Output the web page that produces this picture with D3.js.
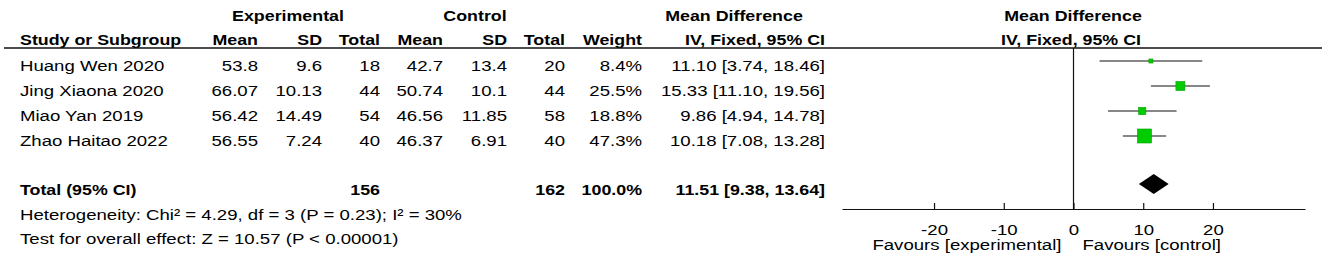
<!DOCTYPE html>
<html>
<head>
<meta charset="utf-8">
<script src="https://cdn.jsdelivr.net/npm/d3@7"></script>
<style>
  body { margin: 0; background: #fff; }
  text { font-family: "Liberation Sans", Arial, sans-serif; fill: #000; }
</style>
</head>
<body>
<div id="chart"></div>
<script>
// study data
const studies = ["Huang Wen 2020", "Jing Xiaona 2020", "Miao Yan 2019", "Zhao Haitao 2022"];
const expMean = [53.8, 66.07, 56.42, 56.55];
const expSD = [9.6, 10.13, 14.49, 7.24];
const expTotal = [18, 44, 54, 40];
const ctlMean = [42.7, 50.74, 46.56, 46.37];
const ctlSD = [13.4, 10.1, 11.85, 6.91];
const ctlTotal = [20, 44, 58, 40];
const weights = [8.4, 25.5, 18.8, 47.3];
const meanDiff = [11.10, 15.33, 9.86, 10.18];
const ciLow = [3.74, 11.10, 4.94, 7.08];
const ciHigh = [18.46, 19.56, 14.78, 13.28];

// pooled result
const pooledMD = [11.51, 9.38, 13.64];   // estimate, lower, upper
const totalN = [156, 162];
const totalWeight = 100.0;
const heterogeneity = "Heterogeneity: Chi\u00b2 = 4.29, df = 3 (P = 0.23); I\u00b2 = 30%";
const overallTest = "Test for overall effect: Z = 10.57 (P < 0.00001)";

const xTicks = [-20, -10, 0, 10, 20];

const width = 1325, height = 268;
const fontSize = 15.5;
const stretch = 1.2;      // the source image is widened horizontally
const boldStretch = 1.15;

const svg = d3.select("#chart").append("svg")
    .attr("width", width)
    .attr("height", height);

const f2 = d3.format(".2f");
const f1 = d3.format(".1f");

// put a text at (x, y) stretched horizontally like the original
function label(x, y, str, anchor, bold) {
    return svg.append("text")
        .attr("transform", `translate(${x},${y}) scale(${bold ? boldStretch : stretch},1)`)
        .attr("text-anchor", anchor || "start")
        .attr("font-size", fontSize)
        .attr("font-weight", bold ? "bold" : "normal")
        .text(str);
}

// column right edges
const col = {
    study: 20, eMean: 258, eSD: 322, eTot: 380,
    cMean: 443, cSD: 507, cTot: 565, weight: 642, ci: 825
};

// headers
label(288, 21, "Experimental", "middle", true);
label(475, 21, "Control", "middle", true);
label(734, 21, "Mean Difference", "middle", true);
label(1073, 21, "Mean Difference", "middle", true);

label(col.study, 44.5, "Study or Subgroup", "start", true);
label(col.eMean, 44.5, "Mean", "end", true);
label(col.eSD, 44.5, "SD", "end", true);
label(col.eTot, 44.5, "Total", "end", true);
label(col.cMean, 44.5, "Mean", "end", true);
label(col.cSD, 44.5, "SD", "end", true);
label(col.cTot, 44.5, "Total", "end", true);
label(col.weight, 44.5, "Weight", "end", true);
label(col.ci, 44.5, "IV, Fixed, 95% CI", "end", true);
label(1071, 44.5, "IV, Fixed, 95% CI", "middle", true);

svg.append("line")
    .attr("x1", 4).attr("x2", 1322)
    .attr("y1", 48).attr("y2", 48)
    .attr("stroke", "#111").attr("stroke-width", 1.3);

// scales
const x = d3.scaleLinear().domain([-33.2, 33.2]).range([842, 1305]);
const y = d3.scalePoint().domain(studies).range([61, 136]);
const boxSize = d3.scalePow().exponent(0.72).domain([0, 47.3]).range([0, 14]);
const totalY = 184;
const axisY = 209;

// study rows
studies.forEach((s, i) => {
    const by = y(s) + 9.5;
    label(col.study, by, s, "start");
    label(col.eMean, by, String(expMean[i]), "end");
    label(col.eSD, by, String(expSD[i]), "end");
    label(col.eTot, by, String(expTotal[i]), "end");
    label(col.cMean, by, String(ctlMean[i]), "end");
    label(col.cSD, by, String(ctlSD[i]), "end");
    label(col.cTot, by, String(ctlTotal[i]), "end");
    label(col.weight, by, f1(weights[i]) + "%", "end");
    label(col.ci, by, `${f2(meanDiff[i])} [${f2(ciLow[i])}, ${f2(ciHigh[i])}]`, "end");
});

// total row
label(col.study, totalY + 11, "Total (95% CI)", "start", true);
label(col.eTot, totalY + 11, String(totalN[0]), "end", true);
label(col.cTot, totalY + 11, String(totalN[1]), "end", true);
label(col.weight, totalY + 11, f1(totalWeight) + "%", "end", true);
label(col.ci, totalY + 11, `${f2(pooledMD[0])} [${f2(pooledMD[1])}, ${f2(pooledMD[2])}]`, "end", true);

label(col.study, 220, heterogeneity, "start");
label(col.study, 244, overallTest, "start");

// plot: zero line
svg.append("line")
    .attr("x1", x(0)).attr("x2", x(0))
    .attr("y1", 48).attr("y2", axisY)
    .attr("stroke", "#111").attr("stroke-width", 1.2);

// confidence intervals
svg.selectAll(".ci")
    .data(studies)
    .join("line")
    .attr("class", "ci")
    .attr("x1", (d, i) => x(ciLow[i]))
    .attr("x2", (d, i) => x(ciHigh[i]))
    .attr("y1", d => y(d))
    .attr("y2", d => y(d))
    .attr("stroke", "#111")
    .attr("stroke-width", 1.2);

// weighted boxes
svg.selectAll(".box")
    .data(studies)
    .join("rect")
    .attr("class", "box")
    .attr("x", (d, i) => x(meanDiff[i]) - boxSize(weights[i]) / 2)
    .attr("y", (d, i) => y(d) - boxSize(weights[i]) / 2)
    .attr("width", (d, i) => boxSize(weights[i]))
    .attr("height", (d, i) => boxSize(weights[i]))
    .attr("fill", "#00cc00")
    .attr("stroke", "#00a000")
    .attr("stroke-width", 0.6);

// pooled diamond
svg.append("path")
    .attr("d", `M${x(pooledMD[1])},${totalY}L${x(pooledMD[0])},${totalY - 10}L${x(pooledMD[2])},${totalY}L${x(pooledMD[0])},${totalY + 10}Z`)
    .attr("fill", "#000");

// axis
const xAxis = d3.axisBottom(x)
    .tickValues(xTicks)
    .tickSizeInner(-6)
    .tickSizeOuter(0)
    .tickPadding(15)
    .tickFormat(d3.format("d"));

const axisG = svg.append("g")
    .attr("transform", `translate(0,${axisY})`)
    .call(xAxis);

axisG.select(".domain").attr("stroke", "#111").attr("stroke-width", 1.2);
axisG.selectAll(".tick line").attr("stroke", "#111").attr("stroke-width", 1.2);
axisG.selectAll(".tick text")
    .attr("font-size", fontSize)
    .attr("font-family", "Liberation Sans, Arial, sans-serif")
    .attr("fill", "#000")
    .attr("transform", `scale(${stretch},1)`)
    .text(d => d < 0 ? "-" + Math.abs(d) : d);

label(x(0) - 12, 250, "Favours [experimental]", "end");
label(x(0) + 9, 250, "Favours [control]", "start");
</script>
</body>
</html>
